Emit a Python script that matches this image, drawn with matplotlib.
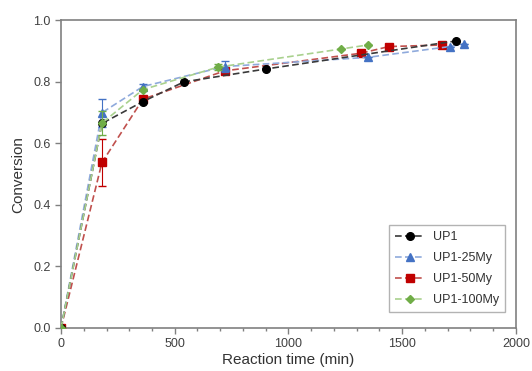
import numpy as np
import matplotlib.pyplot as plt
from matplotlib.ticker import MultipleLocator, FormatStrFormatter

plt.rcParams['font.family'] = ['Liberation Sans', 'DejaVu Sans']

# data
t_up1 = [0, 180, 360, 540, 900, 1736]
c_up1 = [0, 0.665, 0.736, 0.800, 0.842, 0.933]

t_25 = [0, 180, 360, 720, 1350, 1710, 1773]
c_25 = [0, 0.700, 0.785, 0.850, 0.880, 0.915, 0.924]
e_25 = [0, 0.045, 0.008, 0.018, 0, 0, 0]

t_50 = [0, 180, 360, 720, 1317, 1442, 1676]
c_50 = [0, 0.538, 0.744, 0.836, 0.893, 0.915, 0.920]
e_50 = [0, 0.076, 0, 0, 0, 0, 0]

t_100 = [0, 180, 360, 690, 1231, 1348]
c_100 = [0, 0.666, 0.775, 0.848, 0.907, 0.920]
e_100 = [0, 0.040, 0, 0.010, 0, 0]

fig = plt.figure(figsize=(5.32, 3.71), dpi=100)
ax = fig.add_axes([0.1147, 0.116, 0.855, 0.829])

dash = (4, 2)
ax.plot(t_up1, c_up1, 'o--', color='#3a3a3a', mfc='black', mec='black',
        ms=5.5, lw=1.2, dashes=dash, label='UP1', zorder=5)
ax.plot(t_25, c_25, '^--', color='#8faadc', mfc='#4472c4', mec='#4472c4',
        ms=5.5, lw=1.2, dashes=dash, label='UP1-25My', zorder=4)
ax.plot(t_50, c_50, 's--', color='#c0504d', mfc='#c00000', mec='#c00000',
        ms=5.5, lw=1.2, dashes=dash, label='UP1-50My', zorder=3)
ax.plot(t_100, c_100, 'D--', color='#a9d18e', mfc='#70ad47', mec='#70ad47',
        ms=4, lw=1.2, dashes=dash, label='UP1-100My', zorder=6)

ax.errorbar(t_25, c_25, yerr=e_25, fmt='none', ecolor='#4472c4', elinewidth=0.8, capsize=3, zorder=4)
ax.errorbar(t_50, c_50, yerr=e_50, fmt='none', ecolor='#c00000', elinewidth=0.8, capsize=3, zorder=3)
ax.errorbar(t_100, c_100, yerr=e_100, fmt='none', ecolor='#70ad47', elinewidth=0.8, capsize=3, zorder=6)

ax.set_xlim(0, 2000)
ax.set_ylim(0, 1.0)
ax.xaxis.set_major_locator(MultipleLocator(500))
ax.xaxis.set_minor_locator(MultipleLocator(100))
ax.yaxis.set_major_locator(MultipleLocator(0.2))
ax.yaxis.set_major_formatter(FormatStrFormatter('%.1f'))

for s in ax.spines.values():
    s.set_color('#808080')
    s.set_linewidth(1.2)
ax.tick_params(axis='both', which='major', direction='out', length=4, width=1, color='#808080',
               labelsize=9, labelcolor='#404040')
ax.tick_params(axis='x', which='minor', direction='out', length=2.5, width=1, color='#808080')

ax.set_xlabel('Reaction time (min)', fontsize=11, color='#333333', labelpad=2)
ax.set_ylabel('Conversion', fontsize=11, color='#333333', labelpad=6)

leg = ax.legend(loc='lower right', bbox_to_anchor=(0.99, 0.03), fontsize=9, frameon=True,
                fancybox=False, edgecolor='#a0a0a0', handlelength=2.4, labelspacing=0.72,
                borderpad=0.5, handletextpad=0.6)
leg.get_frame().set_linewidth(1.0)
for txt in leg.get_texts():
    txt.set_color('#333333')

plt.savefig('out.png', dpi=100)
